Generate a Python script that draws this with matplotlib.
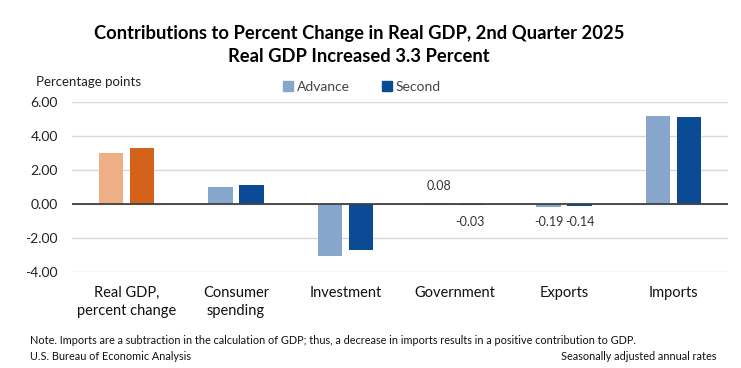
import matplotlib
matplotlib.use("Agg")
import matplotlib.pyplot as plt
from matplotlib.patches import Patch
import numpy as np

categories = ["Real GDP,\npercent change", "Consumer\nspending", "Investment",
              "Government", "Exports", "Imports"]
advance = [3.0, 0.98, -3.06, 0.08, -0.19, 5.18]
second = [3.3, 1.12, -2.69, -0.03, -0.14, 5.09]
yticks = [-4.0, -2.0, 0.0, 2.0, 4.0, 6.0]
labeled = ["Government", "Exports"]

FONT = ["Lato", "DejaVu Sans"]
plt.rcParams["font.family"] = FONT

adv_colors = ["#eeaf87"] + ["#87a6cc"] * 5
sec_colors = ["#d4621b"] + ["#0b4b95"] * 5

W, H = 741, 368
fig = plt.figure(figsize=(W / 100, H / 100), dpi=100)
ax = fig.add_axes([72 / W, 1 - 272 / H, (728 - 72) / W, (272 - 102) / H])

x = np.arange(len(categories))
bw = 0.225
off = 0.142
ax.bar(x - off, advance, bw, color=adv_colors, zorder=3)
ax.bar(x + off, second, bw, color=sec_colors, zorder=3)

ax.set_xlim(-0.5, len(categories) - 0.5)
ax.set_ylim(-4, 6)
ax.set_yticks(yticks)
ax.set_yticklabels([f"{v:.2f}" for v in yticks], fontsize=10, color="#222222")
ax.set_xticks(x)
ax.set_xticklabels(categories, fontsize=10.5, color="#111111", linespacing=1.4)
ax.tick_params(axis="both", length=0)
ax.tick_params(axis="x", pad=10)
ax.tick_params(axis="y", pad=10)
for s in ax.spines.values():
    s.set_visible(False)
ax.grid(axis="y", color="#d9d9d9", linewidth=1, zorder=0)
ax.axhline(0, color="#404040", linewidth=1.3, zorder=4)

for i, c in enumerate(categories):
    if c in labeled:
        for xv, v in ((x[i] - off, advance[i]), (x[i] + off, second[i])):
            ypos = v + 0.95 if v > 0 else -1.05
            ax.text(xv, ypos, f"{v:.2f}", ha="center", va="center",
                    fontsize=9, color="#333333")

ax.legend(handles=[Patch(color="#87a6cc", label="Advance"),
                   Patch(color="#0b4b95", label="Second")],
          loc="center", bbox_to_anchor=(362 / W, 1 - 87 / H), bbox_transform=fig.transFigure,
          ncol=2, frameon=False, fontsize=10, handlelength=0.7, handleheight=0.7,
          handletextpad=0.3, columnspacing=2.3, labelcolor="#444444")

fig.text(359 / W, 1 - 33 / H, "Contributions to Percent Change in Real GDP, 2nd Quarter 2025",
         ha="center", va="center", fontsize=13.25, fontweight="bold", color="#000000")
fig.text(359 / W, 1 - 57 / H, "Real GDP Increased 3.3 Percent",
         ha="center", va="center", fontsize=13.25, fontweight="bold", color="#000000")
fig.text(36 / W, 1 - 82 / H, "Percentage points", ha="left", va="center", fontsize=9.5,
         color="#222222")
fig.text(30 / W, 1 - 340 / H,
         "Note. Imports are a subtraction in the calculation of GDP; thus, a decrease in imports results in a positive contribution to GDP.",
         ha="left", va="center", fontsize=7.8, color="#111111")
fig.text(30 / W, 1 - 356 / H, "U.S. Bureau of Economic Analysis", ha="left", va="center",
         fontsize=7.8, color="#111111")
fig.text(716 / W, 1 - 356 / H, "Seasonally adjusted annual rates", ha="right", va="center",
         fontsize=7.8, color="#111111")

fig.savefig("out.png", dpi=100)
